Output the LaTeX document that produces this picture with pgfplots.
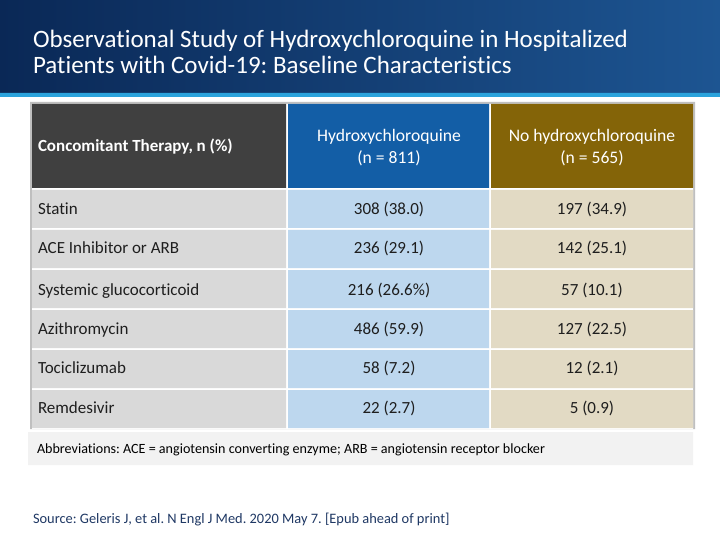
\documentclass[border=0pt]{standalone}
\usepackage{pgfplots}
\pgfplotsset{compat=1.18}
\usepackage{fontspec}
\setmainfont[Ligatures={NoCommon}]{Carlito}
\frenchspacing

\definecolor{navyA}{HTML}{0A2856}
\definecolor{navyB}{HTML}{1D5592}
\definecolor{rule}{HTML}{2BA3DC}
\definecolor{headA}{HTML}{404040}
\definecolor{headB}{HTML}{135EA6}
\definecolor{headC}{HTML}{846408}
\definecolor{cellA}{HTML}{D9D9D9}
\definecolor{cellB}{HTML}{BDD7EE}
\definecolor{cellC}{HTML}{E2DAC4}
\definecolor{abbr}{HTML}{F2F2F2}
\definecolor{edge}{HTML}{BFBFBF}
\definecolor{bodytext}{HTML}{1E1E1E}
\definecolor{srctext}{HTML}{1F3864}

% one filled box per call: x0, y0, x1, y1 (pixel units, y downwards)
\newcommand{\cell}[5]{\addplot[fill=#1, draw=none] coordinates {(#2,#3) (#4,#3) (#4,#5) (#2,#5) (#2,#3)};}

\begin{document}
\begin{tikzpicture}
\begin{axis}[
  width=720bp, height=540bp, scale only axis,
  xmin=0, xmax=720, ymin=0, ymax=540, y dir=reverse,
  hide axis,
  every axis plot/.append style={line width=0pt},
]
  % background and title band
  \cell{white}{0}{0}{720}{540}
  \addplot[draw=none, left color=navyA, right color=navyB] coordinates {(0,0) (720,0) (720,93) (0,93) (0,0)};
  \cell{rule}{0}{93}{720}{97}

  % table frame and cells
  \cell{edge}{30}{102}{695}{429}
  \cell{white}{32}{104}{693}{429}
  \cell{headA}{32}{104}{286}{188}
  \cell{headB}{288}{104}{489}{188}
  \cell{headC}{491}{104}{693}{188}
  \foreach \t/\b in {190/228, 230/268, 270/308, 310/348, 350/388, 390/428} {
    \cell{cellA}{32}{\t}{286}{\b}
    \cell{cellB}{288}{\t}{489}{\b}
    \cell{cellC}{491}{\t}{693}{\b}
  }
  \cell{abbr}{28}{432}{693}{465}

  % title
  \addplot[only marks, mark size=0pt, point meta=explicit symbolic, nodes near coords,
    nodes near coords style={anchor=base west, inner sep=0pt, text=white, font=\fontsize{25bp}{28bp}\selectfont}]
    coordinates {(33,48) [{Observational Study of Hydroxychloroquine in Hospitalized}]
                 (33,74) [{Patients with Covid-19: Baseline Characteristics}]};

  % header
  \addplot[only marks, mark size=0pt, point meta=explicit symbolic, nodes near coords,
    nodes near coords style={anchor=base west, inner sep=0pt, text=white, font=\fontsize{17bp}{19bp}\selectfont\bfseries}]
    coordinates {(38,152) [{Concomitant Therapy, n (\%)}]};
  \addplot[only marks, mark size=0pt, point meta=explicit symbolic, nodes near coords,
    nodes near coords style={anchor=base, inner sep=0pt, text=white, font=\fontsize{17.6bp}{19bp}\selectfont}]
    coordinates {(389,142) [Hydroxychloroquine] (389,164) [{(n = 811)}]
                 (592,142) [No hydroxychloroquine] (592,164) [{(n = 565)}]};

  % row labels
  \addplot[only marks, mark size=0pt, point meta=explicit symbolic, nodes near coords,
    nodes near coords style={anchor=base west, inner sep=0pt, text=bodytext, font=\fontsize{17bp}{19bp}\selectfont}]
    coordinates {(38,215) [Statin] (38,254) [ACE Inhibitor or ARB]
                 (38,295) [Systemic glucocorticoid] (38,334) [Azithromycin]
                 (38,373) [Tociclizumab] (38,413) [Remdesivir]};

  % values
  \addplot[only marks, mark size=0pt, point meta=explicit symbolic, nodes near coords,
    nodes near coords style={anchor=base, inner sep=0pt, text=bodytext, font=\fontsize{17bp}{19bp}\selectfont}]
    coordinates {(389,215) [{308 (38.0)}] (389,254) [{236 (29.1)}]
                 (389,295) [{216 (26.6\%)}] (389,334) [{486 (59.9)}]
                 (389,373) [{58 (7.2)}] (389,413) [{22 (2.7)}]
                 (592,215) [{197 (34.9)}] (592,254) [{142 (25.1)}]
                 (592,295) [{57 (10.1)}] (592,334) [{127 (22.5)}]
                 (592,373) [{12 (2.1)}] (592,413) [{5 (0.9)}]};

  % footnotes
  \addplot[only marks, mark size=0pt,
    nodes near coords={Abbreviations: ACE = angiotensin converting enzyme; ARB = angiotensin receptor blocker},
    nodes near coords style={anchor=base west, inner sep=0pt, text=black, font=\fontsize{14.1bp}{15bp}\selectfont}]
    coordinates {(37,453)};
  \addplot[only marks, mark size=0pt,
    nodes near coords={Source: Geleris J, et al. N Engl J Med. 2020 May 7. [Epub ahead of print]},
    nodes near coords style={anchor=base west, inner sep=0pt, text=srctext, font=\fontsize{14.4bp}{15bp}\selectfont}]
    coordinates {(33,523)};
\end{axis}
\end{tikzpicture}
\end{document}
